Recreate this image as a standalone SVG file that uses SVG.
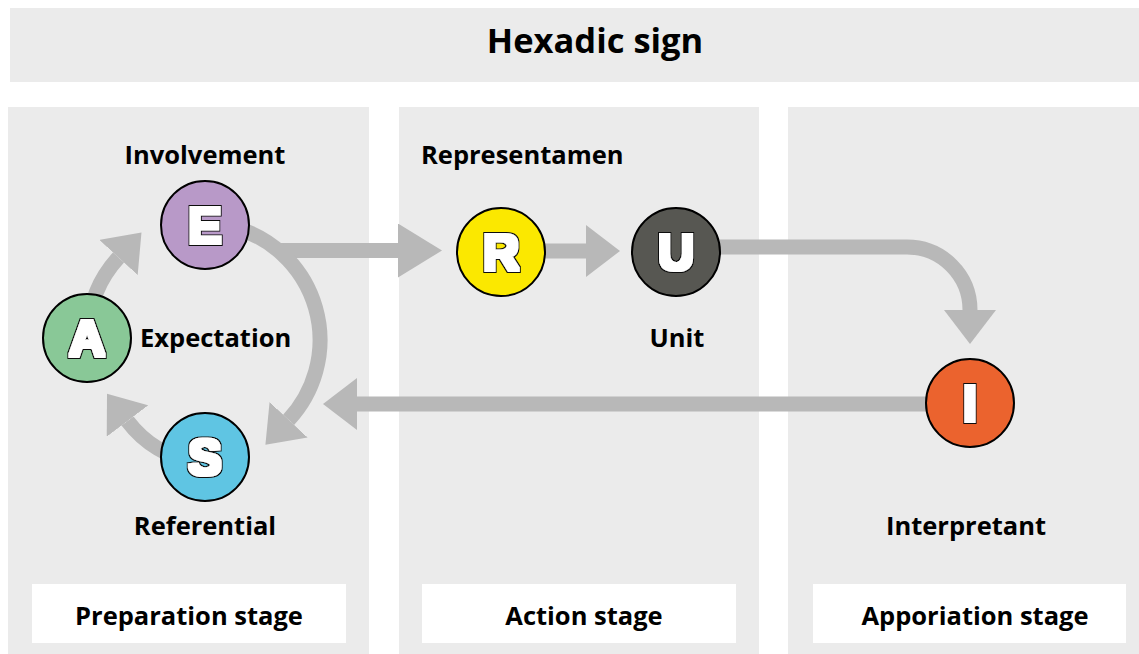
<svg xmlns="http://www.w3.org/2000/svg" width="1139" height="654" viewBox="0 0 1139 654">
<style>
.panel{fill:#ebebeb}
.box{fill:#ffffff}
.lbl{font-family:"Open Sans","Liberation Sans",sans-serif;font-weight:bold;font-size:25.5px;fill:#000}
.title{font-family:"Open Sans","Liberation Sans",sans-serif;font-weight:bold;font-size:34.5px;fill:#000}
.node{stroke:#000;stroke-width:2}
.let{font-family:"Liberation Sans",Arial,sans-serif;font-weight:bold;font-size:50px;fill:#fff;text-anchor:middle;filter:url(#heavy)}
.conn{fill:none;stroke:#b8b8b8;stroke-width:15;stroke-linecap:butt}
</style>
<defs>
<marker id="head" markerUnits="userSpaceOnUse" viewBox="0 -26 34 52" markerWidth="34" markerHeight="52" refX="0" refY="0" orient="auto"><path d="M0,-26 L34,0 L0,26 Z" fill="#b8b8b8"/></marker>
<marker id="headLong" markerUnits="userSpaceOnUse" viewBox="0 -27 44 54" markerWidth="44" markerHeight="54" refX="0" refY="0" orient="auto"><path d="M0,-27 L44,0 L0,27 Z" fill="#b8b8b8"/></marker>
<filter id="heavy" x="-30%" y="-30%" width="160%" height="160%">
<feMorphology in="SourceAlpha" operator="dilate" radius="3.1" result="o"/>
<feFlood flood-color="#111111"/>
<feComposite in2="o" operator="in" result="blk"/>
<feMorphology in="SourceAlpha" operator="dilate" radius="1.8" result="w"/>
<feFlood flood-color="#ffffff"/>
<feComposite in2="w" operator="in" result="wht"/>
<feMerge><feMergeNode in="blk"/><feMergeNode in="wht"/></feMerge>
</filter>
</defs>
<rect width="1139" height="654" fill="#ffffff"/>
<g id="header">
<rect class="panel" x="10" y="8" width="1129" height="74"/>
<text class="title" x="595" y="53" text-anchor="middle">Hexadic sign</text>
</g>
<g id="preparation-stage">
<rect class="panel" x="8" y="107" width="361" height="547"/>
<rect class="box" x="32" y="584" width="314" height="59"/>
<text class="lbl" x="189" y="625" text-anchor="middle">Preparation stage</text>
</g>
<g id="action-stage">
<rect class="panel" x="399" y="107" width="360" height="547"/>
<rect class="box" x="422" y="584" width="314" height="59"/>
<text class="lbl" x="584" y="625" text-anchor="middle">Action stage</text>
</g>
<g id="apporiation-stage">
<rect class="panel" x="788" y="107" width="351" height="547"/>
<rect class="box" x="813" y="584" width="313" height="59"/>
<text class="lbl" x="975" y="625" text-anchor="middle">Apporiation stage</text>
</g>
<g id="connectors">
<path class="conn" d="M280,250.5 H398" marker-end="url(#headLong)"/>
<path class="conn" d="M545,251 H586" marker-end="url(#head)"/>
<path class="conn" d="M720,247 H907 A63,63 0 0 1 970,310" marker-end="url(#head)"/>
<path class="conn" d="M926,404 H357" marker-end="url(#head)"/>
<path class="conn" d="M233.3,227 A117,117 0 0 1 288.6,419.8" marker-end="url(#head)"/>
<path class="conn" d="M88.4,330 A115,115 0 0 1 118.5,257.5" marker-end="url(#head)"/>
<path class="conn" d="M196,463 A110,110 0 0 1 127.5,421" marker-end="url(#head)"/>
</g>
<g id="node-E">
<circle class="node" cx="205" cy="225" r="44" fill="#b899c8"/>
<text class="let" x="205" y="243">E</text>
<text class="lbl" x="205" y="164" text-anchor="middle">Involvement</text>
</g>
<g id="node-A">
<circle class="node" cx="87" cy="338" r="44" fill="#89c897"/>
<text class="let" x="87" y="356">A</text>
<text class="lbl" x="140" y="347">Expectation</text>
</g>
<g id="node-S">
<circle class="node" cx="205" cy="457" r="44" fill="#5fc5e3"/>
<text class="let" x="205" y="475">S</text>
<text class="lbl" x="205" y="535" text-anchor="middle">Referential</text>
</g>
<g id="node-R">
<circle class="node" cx="501" cy="252" r="44" fill="#fbe800"/>
<text class="let" x="501" y="270">R</text>
<text class="lbl" x="421" y="164">Representamen</text>
</g>
<g id="node-U">
<circle class="node" cx="676" cy="252" r="44" fill="#575752"/>
<text class="let" x="676" y="270">U</text>
<text class="lbl" x="677" y="347" text-anchor="middle">Unit</text>
</g>
<g id="node-I">
<circle class="node" cx="970" cy="403" r="44" fill="#eb632e"/>
<text class="let" x="970" y="421">I</text>
<text class="lbl" x="966" y="535" text-anchor="middle">Interpretant</text>
</g>
</svg>
